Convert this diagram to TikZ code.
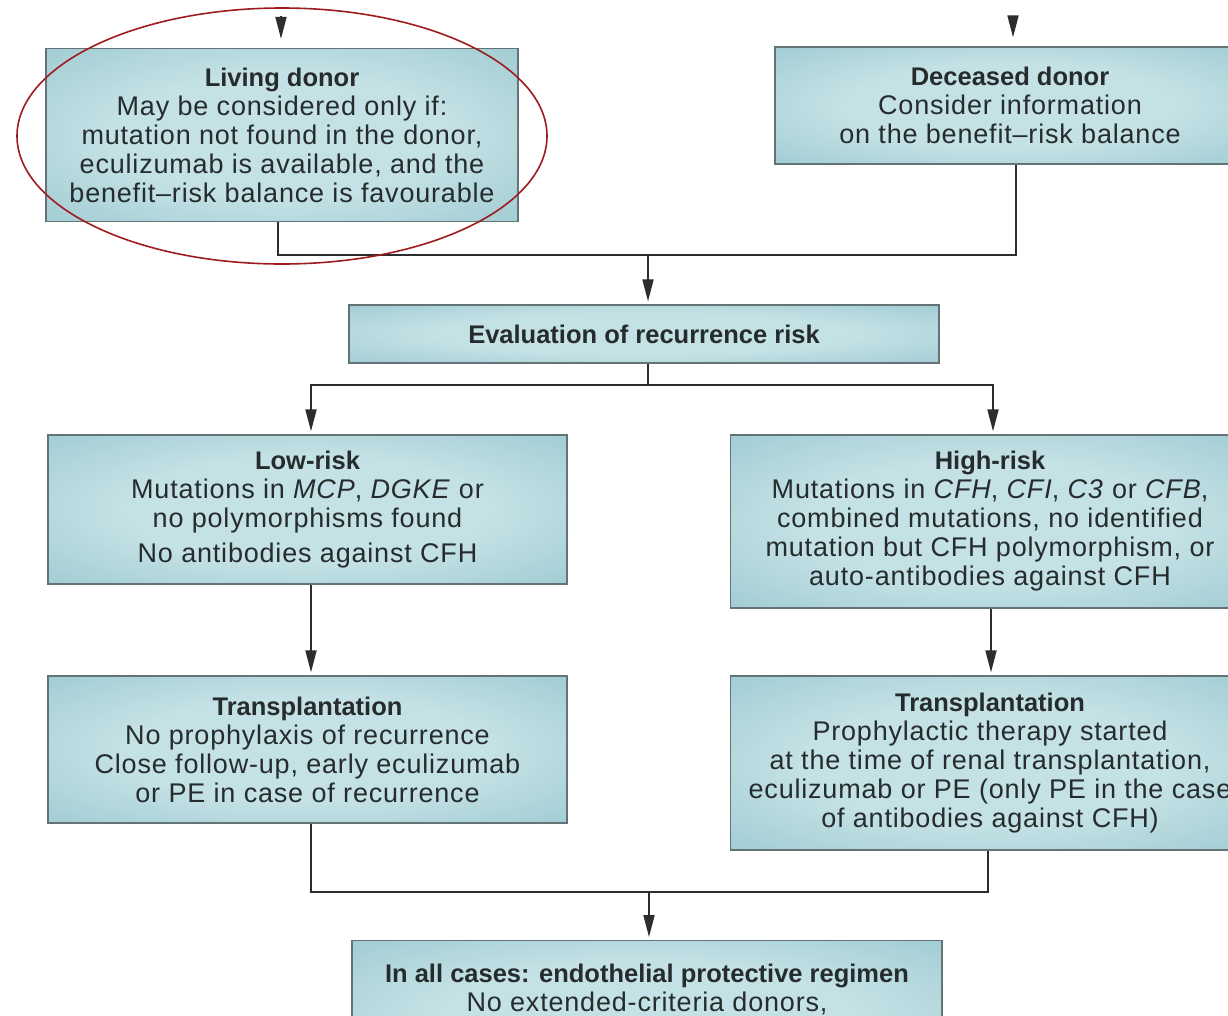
\documentclass[tikz,border=0pt]{standalone}
\usepackage{fontspec}
\setmainfont{Liberation Sans}[LetterSpace=3]
\newfontfamily\headfont{Liberation Sans}
\usetikzlibrary{arrows.meta}
\definecolor{boxin}{RGB}{196,225,229}
\definecolor{boxmid}{RGB}{156,202,209}
\definecolor{boxout}{RGB}{114,174,185}
\definecolor{boxline}{RGB}{100,115,118}
\definecolor{ink}{RGB}{38,44,46}
\definecolor{linkgray}{RGB}{45,45,45}
\definecolor{ringred}{RGB}{158,28,30}
\pgfdeclareradialshading{boxglow}{\pgfpoint{0bp}{0bp}}{%
  color(0bp)=(boxin); color(18bp)=(boxin); color(38bp)=(boxmid);
  color(50bp)=(boxout); color(72bp)=(boxout)}
\newcommand\hd[1]{{\headfont\fontsize{25.5}{29}\selectfont\bfseries #1}}
\tikzset{
  box/.style={draw=boxline, line width=1.3pt, shading=boxglow,
    align=center, text=ink, inner sep=0pt,
    font=\fontsize{27}{29}\selectfont},
  link/.style={draw=linkgray, line width=1.8pt},
  arr/.style={link, -{Triangle[length=22pt,width=11pt]}, shorten >=3pt},
}
\begin{document}
\begin{tikzpicture}[x=1pt,y=-1pt]
\useasboundingbox (0,0) rectangle (1228,1015);
\clip (0,0) rectangle (1228,1015);
\fill[white] (0,0) rectangle (1228,1015);

% donor boxes
\node[box, minimum width=472pt, minimum height=173pt] (living) at (282,135)
  {\hd{Living donor}\\May be considered only if:\\mutation not found in the donor,\\eculizumab is available, and the\\benefit--risk balance is favourable};
\node[box, minimum width=470pt, minimum height=117pt] (deceased) at (1010,105.5)
  {\hd{Deceased donor}\\Consider information\\on the benefit--risk balance};

% risk evaluation
\node[box, minimum width=590pt, minimum height=58pt] (eval) at (644,334)
  {\hd{Evaluation of recurrence risk}};

% risk groups
\node[box, minimum width=519pt, minimum height=149pt] (low) at (307.5,509.5)
  {\hd{Low-risk}\\Mutations in \textit{MCP}, \textit{DGKE} or\\no polymorphisms found\\[6pt]No antibodies against CFH};
\node[box, minimum width=519pt, minimum height=173pt] (high) at (990,521.5)
  {\hd{High-risk}\\Mutations in \textit{CFH}, \textit{CFI}, \textit{C3} or \textit{CFB},\\combined mutations, no identified\\mutation but CFH polymorphism, or\\auto-antibodies against CFH};

% transplantation
\node[box, minimum width=519pt, minimum height=147pt] (txlow) at (307.5,749.5)
  {\hd{Transplantation}\\No prophylaxis of recurrence\\Close follow-up, early eculizumab\\or PE in case of recurrence};
\node[box, minimum width=519pt, minimum height=174pt] (txhigh) at (990,763)
  {\hd{Transplantation}\\Prophylactic therapy started\\at the time of renal transplantation,\\eculizumab or PE (only PE in the case\\of antibodies against CFH)};

% common regimen
\node[box, minimum width=590pt, minimum height=150pt, anchor=north,
  text depth=55pt] (allcases) at (647,940)
  {\hd{In all cases: endothelial protective regimen}\\No extended-criteria donors,};

% incoming arrows (heads only)
\coordinate (inL) at (281,16);
\coordinate (inR) at (1013,16);
\draw[arr, shorten >=9pt] (inL) -- (inL |- living.north);
\draw[arr, shorten >=9pt] (inR) -- (inR |- deceased.north);

% donors to evaluation
\coordinate (j1) at (648,255);
\draw[link] ([xshift=-4pt]living.south) |- (j1) -| ([xshift=6pt]deceased.south);
\draw[arr] (j1) -- (j1 |- eval.north);

% evaluation to risk groups
\coordinate (j2) at (648,385);
\draw[link] (j2 |- eval.south) -- (j2);
\draw[arr] (j2) -| ([xshift=3.5pt]low.north);
\draw[arr] (j2) -| ([xshift=3pt]high.north);

% risk groups to transplantation
\draw[arr] ([xshift=3.5pt]low.south) -- ([xshift=3.5pt]txlow.north);
\draw[arr] ([xshift=1pt]high.south) -- ([xshift=1pt]txhigh.north);

% transplantation to common regimen
\coordinate (j3) at (649,892);
\draw[link] ([xshift=3.5pt]txlow.south) |- (j3) -| ([xshift=-2pt]txhigh.south);
\draw[arr] (j3) -- (j3 |- allcases.north);

% highlight ring
\draw[ringred, line width=1.6pt] (282,136) ellipse [x radius=265pt, y radius=128pt];
\end{tikzpicture}
\end{document}
